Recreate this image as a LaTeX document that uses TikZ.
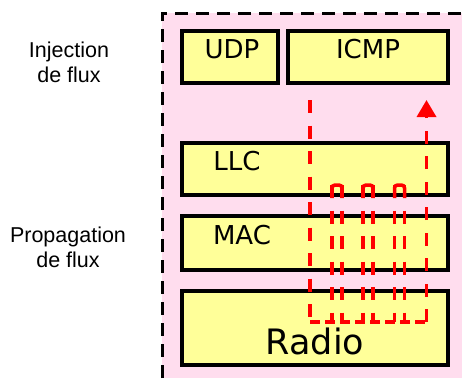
\documentclass[tikz,border=0pt]{standalone}
\usepackage{fontspec}
\setmainfont{DejaVu Sans}
\newfontfamily\arialf{Liberation Sans}
\usetikzlibrary{arrows.meta}
\definecolor{pinkbg}{RGB}{255,221,238}
\definecolor{boxyel}{RGB}{255,255,153}
\begin{document}
\begin{tikzpicture}[x=1pt,y=-1pt,
  layerbox/.style={draw=black,line width=3.4pt,fill=boxyel,inner sep=0pt,outer sep=0pt},
  layertext/.style={anchor=base,font=\fontsize{26}{30}\selectfont,inner sep=0pt},
  sidetext/.style={align=center,font=\arialf\fontsize{21.5}{25}\selectfont,inner sep=0pt},
  flux/.style={draw=red,line width=3.5pt,dash pattern=on 13pt off 12.5pt},
  fluxsolid/.style={draw=red,line width=3.5pt,rounded corners=3pt},
  fluxbottom/.style={draw=red,line width=3.5pt,dash pattern=on 10pt off 5pt}]
\useasboundingbox (0,0) rectangle (462,378);
\fill[pinkbg] (162,13) rectangle (462,378);
\draw[line width=3pt,dash pattern=on 13pt off 8pt] (162,378) -- (162,13) -- (462,13);
% boxes
\draw[layerbox] (182,31) rectangle (278,83);
\draw[layerbox] (288,31) rectangle (448,83);
\draw[layerbox] (182,143) rectangle (448,195);
\draw[layerbox] (182,216) rectangle (448,270);
\draw[layerbox] (182,291) rectangle (448,365);
\node[layertext] (udp) at (232,58) {UDP};
\node[layertext] (icmp) at (368,58) {ICMP};
\node[layertext] (llc) at (237,170) {LLC};
\node[layertext] (mac) at (242,244) {MAC};
\node[anchor=base,font=\fontsize{35}{40}\selectfont,inner sep=0pt] (radio) at (315,354) {Radio};
% side labels
\node[sidetext,anchor=base] (inj) at (69,82) {Injection\\de flux};
\node[sidetext,anchor=base] (prop) at (68,267) {Propagation\\de flux};
% flux path
\coordinate (fstart) at (310,100);
\coordinate (fcorner) at (310,322);
\coordinate (fbot) at (426.5,322);
\coordinate (fend) at (426.5,100);
\draw[flux] (fstart) -- (fcorner);
\draw[fluxbottom] (fcorner) -- (fbot);
\draw[flux,-{Triangle[width=19pt,length=17pt]}] (fbot) -- (fend);
\foreach \xl/\xr in {332/342,363/373,394.5/404.5}{
  \draw[fluxsolid] (\xl,198) -- (\xl,185) -- (\xr,185) -- (\xr,198);
  \draw[flux] (\xl,185) -- (\xl,322);
  \draw[flux] (\xr,185) -- (\xr,322);
}
\end{tikzpicture}
\end{document}
